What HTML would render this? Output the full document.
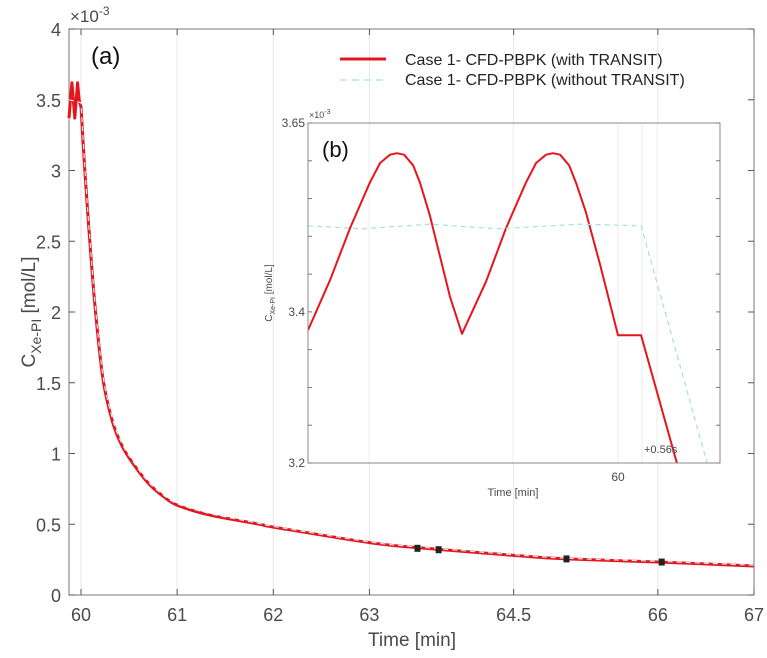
<!DOCTYPE html>
<html><head><meta charset="utf-8"><style>
html,body{margin:0;padding:0;background:#fff;}
svg{display:block;font-family:"Liberation Sans",Arial,sans-serif;}
</style></head><body>
<svg id="chart" width="767" height="658" viewBox="0 0 767 658" xmlns="http://www.w3.org/2000/svg"></svg>
<script>
// ---- main chart data ----
const mainXTicks = [60, 61, 62, 63, 64.5, 66, 67];
const mainYTicks = [0, 0.5, 1, 1.5, 2, 2.5, 3, 3.5, 4];
const redT = [59.875,59.89,59.905,59.92,59.935,59.95,59.965,59.98,60.0,60.04,60.09,60.15,60.23,60.33,60.43,60.55,60.7,60.85,61.0,61.34,61.86,62.0,63.0,63.5,64.5,65.05,66.0,67.0];
const redV = [3.37,3.5,3.62,3.5,3.37,3.5,3.62,3.5,3.45,3.0,2.51,2.01,1.52,1.22,1.05,0.92,0.79,0.70,0.635,0.565,0.50,0.48,0.37,0.335,0.28,0.255,0.233,0.205];
const cyanT = [59.875,60.0,60.04,60.09,60.15,60.23,60.33,60.43,60.55,60.7,60.85,61.0,61.34,61.86,62.0,63.0,63.5,64.5,65.05,66.0,67.0];
const cyanV = [3.5,3.48,3.02,2.53,2.03,1.54,1.24,1.065,0.935,0.80,0.71,0.645,0.575,0.505,0.485,0.375,0.34,0.285,0.26,0.238,0.21];
const markerT = [63.5, 63.72, 65.05, 66.04];
const markerV = [0.33, 0.32, 0.255, 0.233];
// ---- inset data (x: seconds relative to 60 min) ----
const insetYTicks = [3.2, 3.25, 3.3, 3.35, 3.4, 3.45, 3.5, 3.55, 3.6, 3.65];
const insetYLabels = ["3.2","","","","3.4","","","","","3.65"];
const insetRedS = [-7.23,-6.72,-6.25,-5.79,-5.55,-5.32,-5.16,-4.99,-4.78,-4.62,-4.39,-3.92,-3.64,-3.08,-2.61,-2.15,-1.91,-1.68,-1.52,-1.35,-1.14,-0.98,-0.75,-0.42,0.0,0.54,1.68];
const insetRedV = [3.376,3.442,3.511,3.571,3.597,3.608,3.61,3.608,3.594,3.571,3.528,3.42,3.371,3.44,3.511,3.571,3.597,3.608,3.61,3.608,3.594,3.571,3.532,3.463,3.369,3.369,3.138];
const insetCyanS = [-7.23,-5.95,-4.39,-2.82,-0.89,0.54,2.08];
const insetCyanV = [3.514,3.51,3.516,3.51,3.516,3.514,3.2];

const NS = "http://www.w3.org/2000/svg";
const svg = document.getElementById('chart');
function mk(tag, attrs, parent, text){
  const e = document.createElementNS(NS, tag);
  for (const k in attrs) e.setAttribute(k, attrs[k]);
  if (text !== undefined) e.textContent = text;
  (parent || svg).appendChild(e);
  return e;
}
const TXT = '#4a4a4a';
const L=69, R=754, T=29, B=595;
const x = t => 81 + (t-60)*(R-81)/7;
const y = v => B - v*(B-T)/4;
mainXTicks.forEach(t=>{
  const g = mk('line',{x1:x(t),x2:x(t),y1:T,y2:B,stroke:'#e6e6e6','stroke-width':1});
   
});
const frame = mk('rect',{x:L,y:T,width:R-L,height:B-T,fill:'none',stroke:'#777','stroke-width':1});
 
mainXTicks.forEach(t=>{
  mk('line',{x1:x(t),x2:x(t),y1:B,y2:B-6,stroke:'#555'});
  mk('line',{x1:x(t),x2:x(t),y1:T,y2:T+6,stroke:'#555'});
  const lb = mk('text',{x:x(t),y:621,'text-anchor':'middle','font-size':18,fill:TXT},null,String(t));
   
});
mainYTicks.forEach(v=>{
  mk('line',{x1:L,x2:L+6,y1:y(v),y2:y(v),stroke:'#555'});
  mk('line',{x1:R,x2:R-6,y1:y(v),y2:y(v),stroke:'#555'});
  const lb = mk('text',{x:61,y:y(v)+7,'text-anchor':'end','font-size':18,fill:TXT},null,String(v));
   
});
const ex = mk('text',{x:70,y:22,'font-size':17,fill:TXT});
 
ex.innerHTML = '×10<tspan dy="-7" font-size="12">-3</tspan>';
const xt = mk('text',{x:412,y:646,'text-anchor':'middle','font-size':19,fill:TXT},null,'Time [min]');
 
const yt = mk('text',{transform:'translate(35,312) rotate(-90)','text-anchor':'middle','font-size':19,fill:TXT});
 
yt.innerHTML = 'C<tspan dy="6" font-size="14">Xe-PI</tspan><tspan dy="-6">  [mol/L]</tspan>';
const pa = mk('text',{x:91,y:64,'font-size':24,fill:'#111'},null,'(a)');
 

function ptsArr(xs, vs, fx, fy){ return xs.map((t,i)=>[fx(t), fy(vs[i])]); }
function pathD(p, nLin){
  let d = 'M'+p[0][0].toFixed(1)+','+p[0][1].toFixed(1);
  for (let i=1;i<p.length;i++){
    if (i < nLin){ d += 'L'+p[i][0].toFixed(1)+','+p[i][1].toFixed(1); continue; }
    const p0 = p[Math.max(i-2, nLin-1)], p1 = p[i-1], p2 = p[i], p3 = p[Math.min(i+1,p.length-1)];
    const c1x = p1[0]+(p2[0]-p0[0])/6, c1y = p1[1]+(p2[1]-p0[1])/6;
    const c2x = p2[0]-(p3[0]-p1[0])/6, c2y = p2[1]-(p3[1]-p1[1])/6;
    d += 'C'+c1x.toFixed(1)+','+c1y.toFixed(1)+' '+c2x.toFixed(1)+','+c2y.toFixed(1)+' '+p2[0].toFixed(1)+','+p2[1].toFixed(1);
  }
  return d;
}
const redLine = mk('path',{d:pathD(ptsArr(redT,redV,x,y),9),fill:'none',stroke:'#e8141c','stroke-width':3,'stroke-linejoin':'round'});
 
const cyLine = mk('path',{d:pathD(ptsArr(cyanT,cyanV,x,y),2),fill:'none',stroke:'#c4ecf2','stroke-width':1.2,'stroke-dasharray':'5,4'});
 
markerT.forEach((t,i)=>{
  const m = mk('rect',{x:x(t)-3,y:y(markerV[i])-3.5,width:6,height:7,fill:'#222'});
   
});
const lg = mk('g',{});
 
mk('line',{x1:340,x2:386,y1:59,y2:59,stroke:'#e8141c','stroke-width':3},lg);
mk('text',{x:405,y:65,'font-size':16,fill:'#222'},lg,'Case 1- CFD-PBPK (with TRANSIT)');
mk('line',{x1:340,x2:386,y1:80,y2:80,stroke:'#b8e6ee','stroke-width':1.5,'stroke-dasharray':'7,5'},lg);
mk('text',{x:405,y:85,'font-size':16,fill:'#222'},lg,'Case 1- CFD-PBPK (without TRANSIT)');

const iL=308, iR=720, iT=123, iB=463;
const sx = s => 618 + s*42.86;
const sy = v => iB - (v-3.2)*(iB-iT)/0.45;
const ibg = mk('rect',{x:iL,y:iT,width:iR-iL,height:iB-iT,fill:'#fff'});
 
[369,513,618,642,657].forEach(px=>{
  const g=mk('line',{x1:px,x2:px,y1:iT,y2:iB,stroke:'#ececec'});
   
});
const clip = mk('clipPath',{id:'ic'}); mk('rect',{x:iL,y:iT,width:iR-iL,height:iB-iT},clip);
const ired = mk('polyline',{points:ptsArr(insetRedS,insetRedV,sx,sy).map(p=>p[0].toFixed(1)+','+p[1].toFixed(1)).join(' '),fill:'none',stroke:'#e8141c','stroke-width':2,'clip-path':'url(#ic)','stroke-linejoin':'round'});
 
const icy = mk('polyline',{points:ptsArr(insetCyanS,insetCyanV,sx,sy).map(p=>p[0].toFixed(1)+','+p[1].toFixed(1)).join(' '),fill:'none',stroke:'#a8dde6','stroke-width':1.2,'stroke-dasharray':'5,4','clip-path':'url(#ic)'});
 
const ifr = mk('rect',{x:iL,y:iT,width:iR-iL,height:iB-iT,fill:'none',stroke:'#888'});
 
insetYTicks.forEach((v,i)=>{
  mk('line',{x1:iL,x2:iL+4,y1:sy(v),y2:sy(v),stroke:'#777'});
  mk('line',{x1:iR,x2:iR-4,y1:sy(v),y2:sy(v),stroke:'#777'});
  if (insetYLabels[i]) {
    const lb = mk('text',{x:305,y:sy(v)+4,'text-anchor':'end','font-size':12,fill:TXT},null,insetYLabels[i]);
     
  }
});
const iex = mk('text',{x:309,y:118,'font-size':9,fill:TXT});
 
iex.innerHTML = '×10<tspan dy="-4" font-size="7">-3</tspan>';
const ib = mk('text',{x:322,y:157,'font-size':22,fill:'#111'},null,'(b)');
 
const i60 = mk('text',{x:618,y:481,'text-anchor':'middle','font-size':12,fill:TXT},null,'60');
 
const ixt = mk('text',{x:513,y:496,'text-anchor':'middle','font-size':11,fill:TXT},null,'Time [min]');
 
const ian = mk('text',{x:644,y:453,'font-size':11,fill:TXT},null,'+0.56s');
 
const iyt = mk('text',{transform:'translate(272,293) rotate(-90)','text-anchor':'middle','font-size':10,fill:TXT});
 
iyt.innerHTML = 'C<tspan dy="3" font-size="7">Xe-PI</tspan><tspan dy="-3">  [mol/L]</tspan>';
</script>
</body></html>
